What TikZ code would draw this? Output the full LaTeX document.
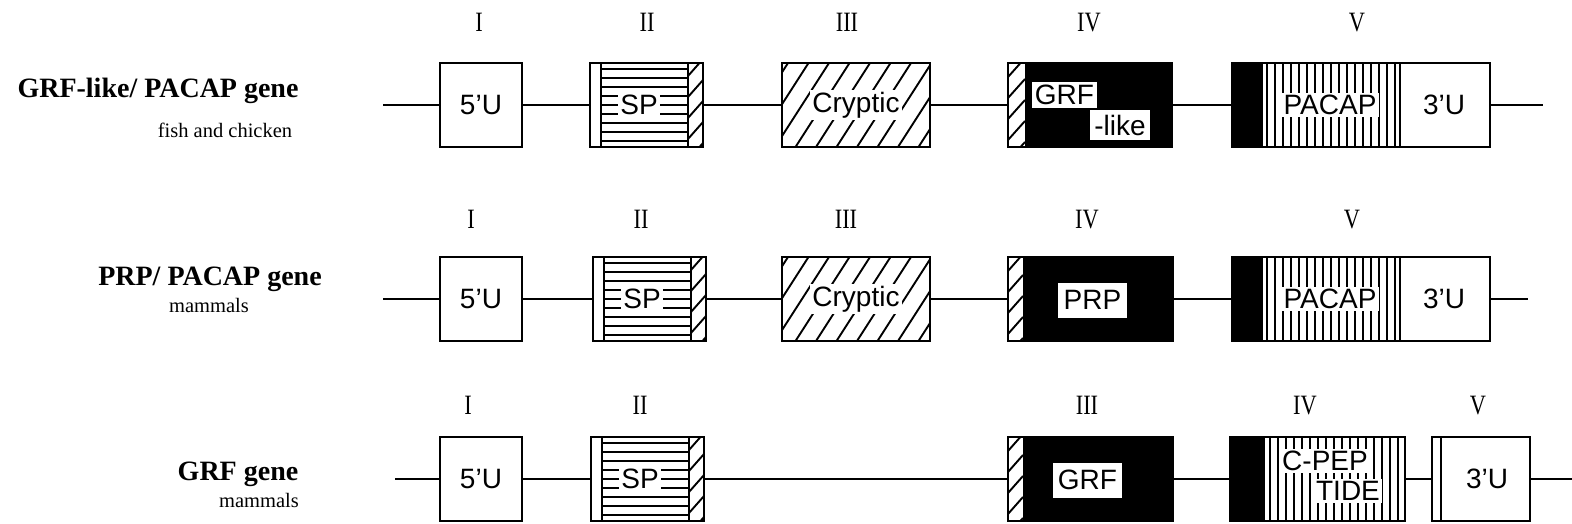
\documentclass[tikz,border=0pt]{standalone}
\usepackage{fontspec}
\setmainfont{Liberation Serif}
\setsansfont{Liberation Sans}
\tikzset{
  bord/.style={line width=2.8pt},
  conn/.style={line width=2.8pt},
  stripe/.style={line width=2.1pt},
  hatch/.style={line width=1.9pt},
  exon/.style={draw, line width=2.8pt, rectangle, inner sep=0pt, minimum height=84pt},
  lab/.style={font=\sffamily\fontsize{28}{30}\selectfont, inner sep=2pt},
  wlab/.style={lab, fill=white},
  num/.style={font=\fontsize{28}{30}\selectfont, anchor=base},
  gtitle/.style={font=\bfseries\fontsize{28}{32}\selectfont, anchor=base},
  gsub/.style={font=\fontsize{20.5}{24}\selectfont, anchor=base},
}
\newcommand\RomN[1]{\scalebox{0.8}[1]{#1}}
% name, left, top, width, text
\newcommand\UTRbox[5]{%
  \node[exon, minimum width=#4] (#1) at ({#2+#4/2},{#3+42}) {};
  \node[lab] at ({#2+#4/2},{#3+42}) {#5};
}
% name, left, top
\newcommand\SPbox[3]{%
  \foreach \jj in {-4,...,4}
    \draw[stripe] ({#2+11},{#3+42+\jj*9}) -- ({#2+98},{#3+42+\jj*9});
  \begin{scope}
    \clip ({#2+98},{#3}) rectangle ({#2+113},{#3+84});
    \foreach \jj in {0,...,4} \draw[hatch] ({#2+98},{#3+\jj*21+13}) -- ++(15,-17);
  \end{scope}
  \draw[stripe] ({#2+11},{#3}) -- ++(0,84);
  \draw[stripe] ({#2+98},{#3}) -- ++(0,84);
  \node[wlab] at ({#2+49},{#3+42}) {SP};
  \node[exon, minimum width=113] (#1) at ({#2+56.5},{#3+42}) {};
}
\newcommand\CRYbox[3]{%
  \begin{scope}
    \clip ({#2},{#3}) rectangle ({#2+148},{#3+84});
    \foreach \jj in {0,...,10} \draw[hatch] ({#2-48+\jj*20.5},{#3+84}) -- ++(54,-84);
  \end{scope}
  \node[wlab] at ({#2+74},{#3+42}) {Cryptic};
  \node[exon, minimum width=148] (#1) at ({#2+74},{#3+42}) {};
}
\newcommand\GLbox[3]{%
  \fill ({#2+17},{#3}) rectangle ({#2+164},{#3+84});
  \begin{scope}
    \clip ({#2},{#3}) rectangle ({#2+17},{#3+84});
    \foreach \jj in {0,...,4} \draw[hatch] ({#2},{#3+\jj*21+14}) -- ++(17,-19);
  \end{scope}
  \node[lab, fill=white, minimum width=65, minimum height=26] at ({#2+56.5},{#3+32}) {GRF};
  \node[lab, fill=white, minimum width=60, minimum height=30] at ({#2+112},{#3+62}) {-like};
  \node[exon, minimum width=164] (#1) at ({#2+82},{#3+42}) {};
}
% name, left, top, text x offset, text
\newcommand\BLKbox[5]{%
  \fill ({#2+15},{#3}) rectangle ({#2+165},{#3+84});
  \begin{scope}
    \clip ({#2},{#3}) rectangle ({#2+15},{#3+84});
    \foreach \jj in {0,...,4} \draw[hatch] ({#2},{#3+\jj*21+14}) -- ++(15,-17);
  \end{scope}
  \node[lab, fill=white, minimum width=69, minimum height=35] at ({#2+#4},{#3+43}) {#5};
  \node[exon, minimum width=165] (#1) at ({#2+82.5},{#3+42}) {};
}
\newcommand\PACbox[3]{%
  \fill ({#2},{#3}) rectangle ({#2+31},{#3+84});
  \foreach \jj in {0,...,16} \draw[stripe] ({#2+35+\jj*8},{#3}) -- ++(0,84);
  \draw[bord] ({#2+168},{#3}) -- ++(0,84);
  \node[wlab, inner xsep=3pt] at ({#2+98},{#3+42}) {PACAP};
  \node[lab] at ({#2+212},{#3+42}) {3'U};
  \node[exon, minimum width=258] (#1) at ({#2+129},{#3+42}) {};
}
\newcommand\CPbox[3]{%
  \fill ({#2},{#3}) rectangle ({#2+35},{#3+84});
  \foreach \jj in {0,...,16} \draw[stripe] ({#2+40+\jj*8},{#3}) -- ++(0,84);
  \node[wlab] at ({#2+95},{#3+24}) {C-PEP};
  \node[wlab] at ({#2+118},{#3+54}) {TIDE};
  \node[exon, minimum width=175] (#1) at ({#2+87.5},{#3+42}) {};
}
\begin{document}
\begin{tikzpicture}[x=1pt,y=-1pt]
\useasboundingbox (0,0) rectangle (1572,524);

% ---------- Row 1 ----------
\node[gtitle] (t1) at (158,98) {GRF-like/ PACAP gene};
\node[gsub] (u1) at (225,138) {fish and chicken};
\node[num] (n1a) at (479,32) {\RomN{I}};
\node[num] (n1b) at (647,32) {\RomN{II}};
\node[num] (n1c) at (847,32) {\RomN{III}};
\node[num] (n1d) at (1089,32) {\RomN{IV}};
\node[num] (n1e) at (1357,32) {\RomN{V}};
\UTRbox{r1a}{440}{63}{82}{5'U}
\SPbox{r1b}{590}{63}
\CRYbox{r1c}{782}{63}
\GLbox{r1d}{1008}{63}
\PACbox{r1e}{1232}{63}
\coordinate (s1) at (383,105);
\coordinate (e1) at (1543,105);
\draw[conn] (s1) -- (r1a);
\draw[conn] (r1a) -- (r1b);
\draw[conn] (r1b) -- (r1c);
\draw[conn] (r1c) -- (r1d);
\draw[conn] (r1d) -- (r1e);
\draw[conn] (r1e) -- (e1);

% ---------- Row 2 ----------
\node[gtitle] (t2) at (210,285) {PRP/ PACAP gene};
\node[gsub] (u2) at (209,312) {mammals};
\node[num] (n2a) at (471,228) {\RomN{I}};
\node[num] (n2b) at (641,228) {\RomN{II}};
\node[num] (n2c) at (846,228) {\RomN{III}};
\node[num] (n2d) at (1087,228) {\RomN{IV}};
\node[num] (n2e) at (1352,228) {\RomN{V}};
\UTRbox{r2a}{440}{257}{82}{5'U}
\SPbox{r2b}{593}{257}
\CRYbox{r2c}{782}{257}
\BLKbox{r2d}{1008}{257}{84.5}{PRP}
\PACbox{r2e}{1232}{257}
\coordinate (s2) at (383,299);
\coordinate (e2) at (1528,299);
\draw[conn] (s2) -- (r2a);
\draw[conn] (r2a) -- (r2b);
\draw[conn] (r2b) -- (r2c);
\draw[conn] (r2c) -- (r2d);
\draw[conn] (r2d) -- (r2e);
\draw[conn] (r2e) -- (e2);

% ---------- Row 3 ----------
\node[gtitle] (t3) at (238,480) {GRF gene};
\node[gsub] (u3) at (259,507) {mammals};
\node[num] (n3a) at (468,414) {\RomN{I}};
\node[num] (n3b) at (640,414) {\RomN{II}};
\node[num] (n3c) at (1087,414) {\RomN{III}};
\node[num] (n3d) at (1305,414) {\RomN{IV}};
\node[num] (n3e) at (1478,414) {\RomN{V}};
\UTRbox{r3a}{440}{437}{82}{5'U}
\SPbox{r3b}{591}{437}
\BLKbox{r3c}{1008}{437}{79.5}{GRF}
\CPbox{r3d}{1230}{437}
\node[exon, minimum width=98] (r3e) at (1481,479) {};
\draw[stripe] (1441,437) -- (1441,521);
\node[lab] (l3e) at (1487,479) {3'U};
\coordinate (s3) at (395,479);
\coordinate (e3) at (1572,479);
\draw[conn] (s3) -- (r3a);
\draw[conn] (r3a) -- (r3b);
\draw[conn] (r3b) -- (r3c);
\draw[conn] (r3c) -- (r3d);
\draw[conn] (r3d) -- (r3e);
\draw[conn] (r3e) -- (e3);
\end{tikzpicture}
\end{document}
